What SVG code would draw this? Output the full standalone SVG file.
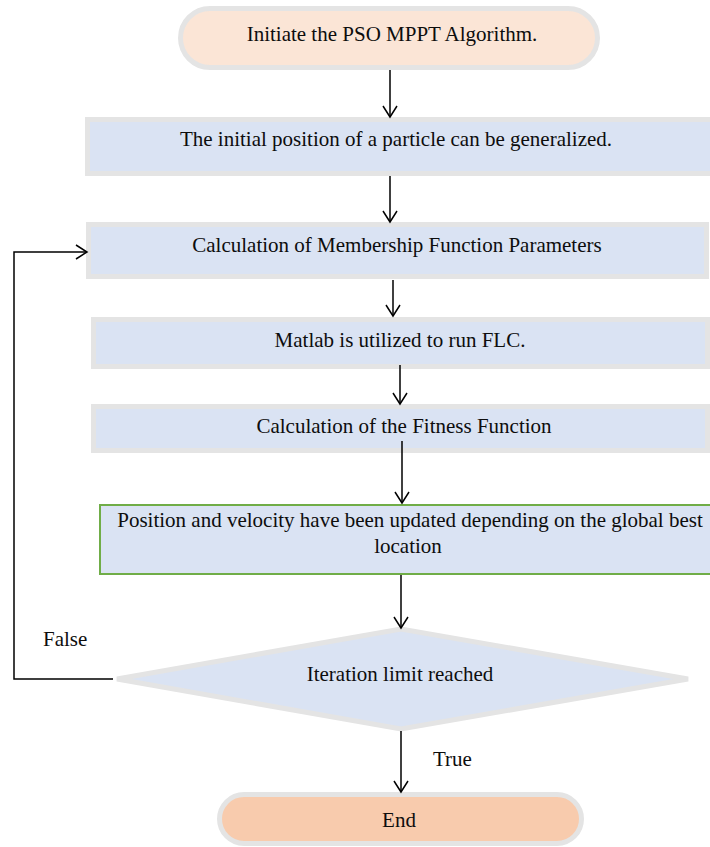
<svg xmlns="http://www.w3.org/2000/svg" width="710" height="847" viewBox="0 0 710 847">
<style>
.t{font-family:'Liberation Serif','DejaVu Serif',serif;font-size:21px;fill:#0d0d0d;}
.c{text-anchor:middle;}
.box{fill:#dae3f3;stroke:#e4e4e4;stroke-width:5;}
.term1{fill:#fbe5d6;stroke:#e4e4e4;stroke-width:5;}
.term2{fill:#f8cbad;stroke:#e4e4e4;stroke-width:5;}
.green{fill:#dae3f3;stroke:#70ad47;stroke-width:2;}
.ln{fill:none;stroke:#000;stroke-width:1.5;marker-end:url(#ah);}
</style>
<defs>
<marker id="ah" markerUnits="userSpaceOnUse" viewBox="-12 -10 14 20" markerWidth="14" markerHeight="20" refX="0" refY="0" orient="auto">
<path d="M-11,-7 L0,0 L-11,7" fill="none" stroke="#000" stroke-width="1.5"/>
</marker>
</defs>
<g id="start">
<rect class="term1" x="180.5" y="8.5" width="417" height="59" rx="29.5"/>
<text class="t c" x="392" y="41">Initiate the PSO MPPT Algorithm.</text>
</g>
<g id="init">
<rect class="box" x="87.5" y="119.5" width="630" height="54"/>
<text class="t c" x="396" y="146">The initial position of a particle can be generalized.</text>
</g>
<g id="membership">
<rect class="box" x="88.5" y="224.5" width="618" height="52"/>
<text class="t c" x="397" y="252">Calculation of Membership Function Parameters</text>
</g>
<g id="matlab">
<rect class="box" x="93.5" y="319.5" width="614" height="47"/>
<text class="t c" x="400" y="347">Matlab is utilized to run FLC.</text>
</g>
<g id="fitness">
<rect class="box" x="93.5" y="406.5" width="614" height="44"/>
<text class="t c" x="404" y="433">Calculation of the Fitness Function</text>
</g>
<g id="update">
<rect class="green" x="100" y="505" width="620" height="69"/>
<text class="t c" x="410" y="527">Position and velocity have been updated depending on the global best</text>
<text class="t c" x="408" y="553">location</text>
</g>
<g id="decision">
<polygon class="box" points="117,679 401,629 688,679 401,729"/>
<text class="t c" x="400" y="681">Iteration limit reached</text>
</g>
<g id="end">
<rect class="term2" x="219.5" y="794.5" width="362" height="49" rx="24.5"/>
<text class="t c" x="399" y="827">End</text>
</g>
<g id="connectors">
<line class="ln" x1="390" y1="70" x2="390" y2="117"/>
<line class="ln" x1="390" y1="176" x2="390" y2="222"/>
<line class="ln" x1="393" y1="280" x2="393" y2="316"/>
<line class="ln" x1="400" y1="365" x2="400" y2="404"/>
<line class="ln" x1="402" y1="441" x2="402" y2="503"/>
<line class="ln" x1="401" y1="575" x2="401" y2="628"/>
<line class="ln" x1="401" y1="731" x2="401" y2="792"/>
<polyline class="ln" points="113,679 14,679 14,252 87,252"/>
<text class="t" x="43" y="646">False</text>
<text class="t" x="433" y="766">True</text>
</g>
</svg>
